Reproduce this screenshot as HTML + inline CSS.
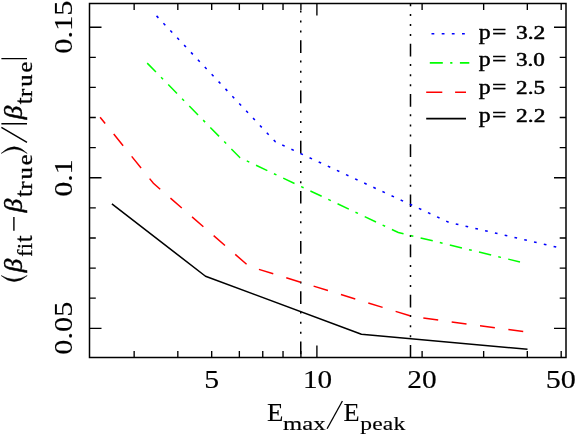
<!DOCTYPE html><html><head><meta charset="utf-8"><title>plot</title><style>html,body{margin:0;padding:0;background:#fff;}svg{display:block;font-family:"Liberation Serif",serif;will-change:transform;font-variant-ligatures:none;font-kerning:none;}</style></head><body>
<svg width="577" height="436" viewBox="0 0 577 436">
<rect width="577" height="436" fill="#fff"/>
<path d="M134.15 357.5v-6.5M134.15 3.5v6.5M177.82 357.5v-6.5M177.82 3.5v6.5M211.69 357.5v-6.5M211.69 3.5v6.5M239.36 357.5v-6.5M239.36 3.5v6.5M262.76 357.5v-6.5M262.76 3.5v6.5M283.03 357.5v-6.5M283.03 3.5v6.5M300.91 357.5v-6.5M300.91 3.5v6.5M316.90 357.5v-12M316.90 3.5v12M422.11 357.5v-6.5M422.11 3.5v6.5M483.65 357.5v-6.5M483.65 3.5v6.5M527.32 357.5v-6.5M527.32 3.5v6.5M561.19 357.5v-6.5M561.19 3.5v6.5M89.5 328.30h12M566.0 328.30h-12M89.5 298.19h6.3M566.0 298.19h-6.3M89.5 268.08h6.3M566.0 268.08h-6.3M89.5 237.97h6.3M566.0 237.97h-6.3M89.5 207.86h6.3M566.0 207.86h-6.3M89.5 177.75h12M566.0 177.75h-12M89.5 147.64h6.3M566.0 147.64h-6.3M89.5 117.53h6.3M566.0 117.53h-6.3M89.5 87.42h6.3M566.0 87.42h-6.3M89.5 57.31h6.3M566.0 57.31h-6.3M89.5 27.20h12M566.0 27.20h-12" stroke="#000" stroke-width="1.35" fill="none"/>
<rect x="89.5" y="3.5" width="476.5" height="354.0" fill="none" stroke="#000" stroke-width="1.5"/>
<path d="M300.75 3.5V357.5" stroke="#000" stroke-width="1.5" stroke-dasharray="12.7 7.6 2 8.1 2 8.1 2 7.7" stroke-dashoffset="13.4" fill="none"/>
<path d="M410.5 3.5V357.5" stroke="#000" stroke-width="1.5" stroke-dasharray="12.7 7.6 2 8.1 2 8.1 2 7.7" stroke-dashoffset="9.9" fill="none"/>
<path d="M111.9 203.85L205.5 276.25L361.4 334.2L527.5 349.25" stroke="#000" stroke-width="1.55" fill="none" stroke-linejoin="round"/>
<path d="M100.1 117.2L153.4 183.3L249 266.3L413 316.7L525.1 331.75" stroke="#f00" stroke-width="1.5" fill="none" stroke-dasharray="15 13.6" stroke-dashoffset="6.9"/>
<path d="M147.2 63.1L240 157.7L398.3 232.5L520 262" stroke="#0f0" stroke-width="1.5" fill="none" stroke-dasharray="12.5 7.3 2.8 7.45"/>
<path d="M156.55 15.9L275.5 141.9L449 222.4L556.3 247.1" stroke="#00f" stroke-width="1.55" fill="none" stroke-dasharray="2.7 7.34"/>
<path d="M431.5 33.7h2.8M441.7 33.7h2.8M451.8 33.7h2.8M462 33.7h2.8" stroke="#00f" stroke-width="1.6"/>
<path d="M429.8 62.9h13M450.2 62.9h2.2M459.9 62.9h9.4" stroke="#0f0" stroke-width="1.8"/>
<path d="M426.2 92.2h16.1M455.1 92.2h10.9" stroke="#f00" stroke-width="1.45"/>
<path d="M426.2 118.6h39.8" stroke="#000" stroke-width="1.6"/>
<g fill="#000" stroke="#000" stroke-width="0.3">
<text transform="translate(478.82 38.7) scale(1.1915 1)" font-size="20" stroke-width="0.4">p</text>
<text transform="translate(492.03 38.7) scale(1.2787 1)" font-size="20" stroke-width="0.4">=</text>
<text transform="translate(515.97 38.7) scale(1.2072 1)" font-size="19.5" stroke-width="0.5">3.2</text>
<text transform="translate(478.82 66.4) scale(1.1915 1)" font-size="20" stroke-width="0.4">p</text>
<text transform="translate(492.03 66.4) scale(1.2787 1)" font-size="20" stroke-width="0.4">=</text>
<text transform="translate(515.99 66.4) scale(1.1895 1)" font-size="19.5" stroke-width="0.5">3.0</text>
<text transform="translate(478.82 94.1) scale(1.1915 1)" font-size="20" stroke-width="0.4">p</text>
<text transform="translate(492.03 94.1) scale(1.2787 1)" font-size="20" stroke-width="0.4">=</text>
<text transform="translate(516.08 94.1) scale(1.1865 1)" font-size="19.5" stroke-width="0.5">2.5</text>
<text transform="translate(478.82 121.8) scale(1.1915 1)" font-size="20" stroke-width="0.4">p</text>
<text transform="translate(492.03 121.8) scale(1.2787 1)" font-size="20" stroke-width="0.4">=</text>
<text transform="translate(516.07 121.8) scale(1.2031 1)" font-size="19.5" stroke-width="0.5">2.2</text>
<text transform="translate(204.27 388.3) scale(1.1916 1)" font-size="25" stroke-width="0.15">5</text>
<text transform="translate(303.04 388.3) scale(1.1670 1)" font-size="25" stroke-width="0.15">10</text>
<text transform="translate(407.21 388.3) scale(1.1765 1)" font-size="25" stroke-width="0.15">20</text>
<text transform="translate(545.64 388.3) scale(1.2082 1)" font-size="25" stroke-width="0.15">50</text>
<text transform="translate(267.03 421.4) scale(1.0747 1)" font-size="25" stroke-width="0.1">E</text>
<text transform="translate(283.08 429.7) scale(1.2570 1)" font-size="19.6" stroke-width="0.15">max</text>
<path d="M327.1 428.8L342.4 401" stroke-width="1.3" fill="none"/>
<text transform="translate(343.54 421.4) scale(1.0522 1)" font-size="25" stroke-width="0.1">E</text>
<text transform="translate(360.32 429.7) scale(1.2000 1)" font-size="19.6" letter-spacing="0.133" stroke-width="0.15">peak</text>
<text transform="translate(72.2 53.86) rotate(-90) scale(1.1726 1)" font-size="26" stroke-width="0.15">0.15</text>
<text transform="translate(72.2 196.53) rotate(-90) scale(1.1420 1)" font-size="26" stroke-width="0.15">0.1</text>
<text transform="translate(72.2 354.65) rotate(-90) scale(1.1657 1)" font-size="26" stroke-width="0.15">0.05</text>
<clipPath id="bc"><rect x="0" y="50" width="28.3" height="250"/></clipPath><g clip-path="url(#bc)">
<text transform="translate(22.2 272.16) rotate(-90) scale(1.0845 1)" font-size="25" font-style="italic" stroke-width="0.45">β</text>
<text transform="translate(22.2 212.26) rotate(-90) scale(1.0845 1)" font-size="25" font-style="italic" stroke-width="0.45">β</text>
<text transform="translate(22.2 119.36) rotate(-90) scale(1.0845 1)" font-size="25" font-style="italic" stroke-width="0.45">β</text>
</g>
<text transform="translate(32.2 256.66) rotate(-90) scale(1.0000 1)" font-size="21.5" letter-spacing="0.538">fi</text>
<text transform="translate(32.2 242.34) rotate(-90) scale(0.9963 1)" font-size="24.5">t</text>
<text transform="translate(32.2 197.04) rotate(-90) scale(0.9963 1)" font-size="24.5">t</text>
<text transform="translate(32.2 189.69) rotate(-90) scale(1.1500 1)" font-size="21.5" letter-spacing="1.644">rue</text>
<text transform="translate(32.2 104.34) rotate(-90) scale(0.9963 1)" font-size="24.5">t</text>
<text transform="translate(32.2 96.99) rotate(-90) scale(1.1500 1)" font-size="21.5" letter-spacing="1.644">rue</text>
<path d="M1.2 275.6Q14.2 287.4 27.2 275.6Q14.2 283.2 1.2 275.6ZM1.2 153.4Q14.2 140.2 27.2 153.4Q14.2 144.4 1.2 153.4Z" stroke-width="0.5" stroke-linejoin="round"/><path d="M27 142.4L1.4 127.4M1.4 123.7H27M1.4 58.6H27M13.9 230.8V216.9" stroke-width="1.4" fill="none"/>
</g>
</svg></body></html>
